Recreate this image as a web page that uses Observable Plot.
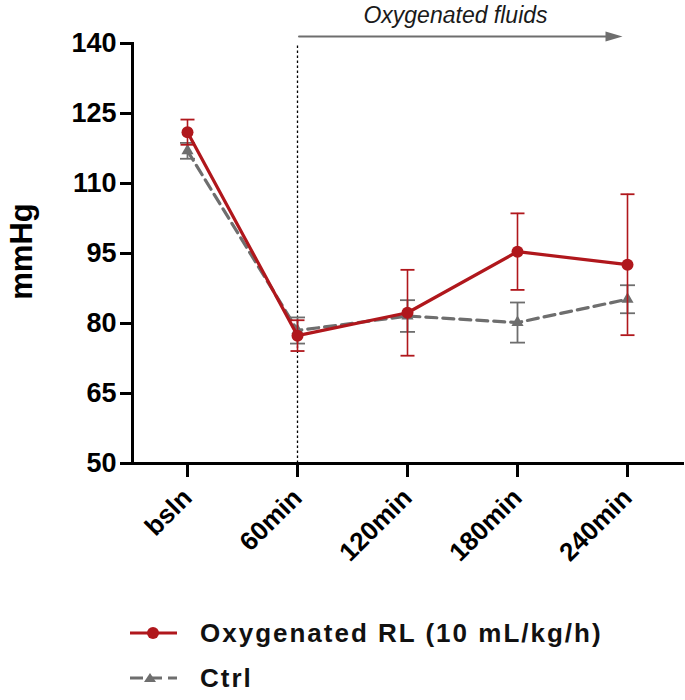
<!DOCTYPE html>
<html><head><meta charset="utf-8">
<script src="https://cdn.jsdelivr.net/npm/d3@7"></script>
<script src="https://cdn.jsdelivr.net/npm/@observablehq/plot@0.6"></script>
<style>
body{margin:0;background:#fff;font-family:"Liberation Sans",Arial,sans-serif;}
#wrap{position:relative;width:685px;height:700px;overflow:hidden;}
.row{position:absolute;left:128px;height:30px;display:flex;align-items:center;font-weight:bold;font-size:26px;letter-spacing:2px;line-height:30px;color:#111;white-space:nowrap;}
.row svg{margin-right:22px;}
</style></head><body><div id="wrap"><div id="chart"></div></div>
<script>
const timepoints = ["bsln", "60min", "120min", "180min", "240min"];
const rlMean = [121.0, 77.4, 82.3, 95.4, 92.6];
const rlErr = [2.7, 3.3, 9.2, 8.2, 15.1];
const ctrlMean = [117.0, 78.5, 81.6, 80.2, 85.2];
const ctrlErr = [1.7, 2.8, 3.4, 4.3, 3.0];
const yTicks = [50, 65, 80, 95, 110, 125, 140];
const yLabel = "mmHg";
const annotationText = "Oxygenated fluids";
const arrowLevel = 141.5;
const seriesNames = ["Oxygenated RL (10 mL/kg/h)", "Ctrl"];

const red = "#b0171c";
const gray = "#6e6e6e";

const rows = timepoints.map((t, i) => ({
  t, rl: rlMean[i], rlLo: rlMean[i] - rlErr[i], rlHi: rlMean[i] + rlErr[i],
  c: ctrlMean[i], cLo: ctrlMean[i] - ctrlErr[i], cHi: ctrlMean[i] + ctrlErr[i]
}));

const cap = {draw(ctx, size) { const w = Math.sqrt(size / Math.PI); ctx.moveTo(-w, 0); ctx.lineTo(w, 0); }};
const headRight = {draw(ctx, size) { const r = Math.sqrt(size / Math.PI); ctx.moveTo(r, 0); ctx.lineTo(-r, -r * 0.6); ctx.lineTo(-r, r * 0.6); ctx.closePath(); }};

const chart = Plot.plot({
  width: 685, height: 590,
  marginTop: 43, marginBottom: 127, marginLeft: 132, marginRight: 3,
  style: {fontFamily: "'Liberation Sans', Arial, sans-serif", background: "white", overflow: "visible", color: "#000"},
  x: {type: "point", domain: timepoints, padding: 0.5},
  y: {domain: [50, 140]},
  marks: [
    Plot.ruleX([timepoints[1]], {y1: 50, y2: 140, stroke: "#000", strokeWidth: 1.3, strokeDasharray: "2.5,2.5"}),
    Plot.arrow([{a: timepoints[1], b: timepoints[4], y: arrowLevel}], {x1: "a", x2: "b", y1: "y", y2: "y", stroke: gray, strokeWidth: 2, headLength: 0, insetStart: 1.5, insetEnd: 14}),
    Plot.dot([{x: timepoints[4], y: arrowLevel}], {x: "x", y: "y", symbol: headRight, r: 8.5, fill: gray, stroke: "none", dx: -13.5}),
    Plot.text([annotationText], {x: () => timepoints[3], frameAnchor: "top", textAnchor: "middle", dx: -62, dy: -21, lineAnchor: "bottom", fontStyle: "italic", fontSize: 23, fill: "#1a1a1a"}),
    // Ctrl series
    Plot.ruleX(rows, {x: "t", y1: "cLo", y2: "cHi", stroke: gray, strokeWidth: 1.8}),
    Plot.dot(rows, {x: "t", y: "cLo", symbol: cap, r: 7.5, stroke: gray, strokeWidth: 1.8}),
    Plot.dot(rows, {x: "t", y: "cHi", symbol: cap, r: 7.5, stroke: gray, strokeWidth: 1.8}),
    Plot.line(rows, {x: "t", y: "c", stroke: gray, strokeWidth: 3.2, strokeDasharray: "11,6"}),
    Plot.dot(rows, {x: "t", y: "c", symbol: "triangle", r: 4.5, fill: gray, stroke: "none"}),
    // Oxygenated RL series
    Plot.ruleX(rows, {x: "t", y1: "rlLo", y2: "rlHi", stroke: red, strokeWidth: 1.6}),
    Plot.dot(rows, {x: "t", y: "rlLo", symbol: cap, r: 7, stroke: red, strokeWidth: 1.8}),
    Plot.dot(rows, {x: "t", y: "rlHi", symbol: cap, r: 7, stroke: red, strokeWidth: 1.8}),
    Plot.line(rows, {x: "t", y: "rl", stroke: red, strokeWidth: 3.2}),
    Plot.dot(rows, {x: "t", y: "rl", r: 6, fill: red, stroke: "none"}),
    // axes
    Plot.axisY(yTicks, {tickSize: 12, tickPadding: 4, fontSize: 27, fontWeight: "bold", strokeWidth: 3, label: null, fill: "#000"}),
    Plot.axisX({tickSize: 14, tickPadding: 16, tickRotate: -45, fontSize: 26, fontWeight: "bold", strokeWidth: 3, label: null, fill: "#000"}),
    Plot.frame({anchor: "left", strokeWidth: 3, stroke: "#000"}),
    Plot.frame({anchor: "bottom", strokeWidth: 3, stroke: "#000"}),
    Plot.text([yLabel], {frameAnchor: "left", textAnchor: "middle", dx: -110, dy: -2, rotate: -90, fontSize: 31, fontWeight: "bold", fill: "#000"})
  ]
});
document.getElementById("chart").appendChild(chart);

const wrap = document.getElementById("wrap");
function addRow(top, name, symbolSvg) {
  const r = document.createElement("div");
  r.className = "row";
  r.style.top = top + "px";
  r.innerHTML = symbolSvg + "<span>" + name + "</span>";
  wrap.appendChild(r);
}
addRow(618, seriesNames[0],
  `<svg width="50" height="30"><line x1="2" x2="49" y1="15" y2="15" stroke="${red}" stroke-width="3.2"/><circle cx="25" cy="15" r="6" fill="${red}"/></svg>`);
addRow(663, seriesNames[1],
  `<svg width="50" height="30"><line x1="2" x2="49" y1="15" y2="15" stroke="${gray}" stroke-width="3.2" stroke-dasharray="13,6"/><path d="M22,10 L28,19 L16,19 Z" fill="${gray}"/></svg>`);
</script>
</body></html>
